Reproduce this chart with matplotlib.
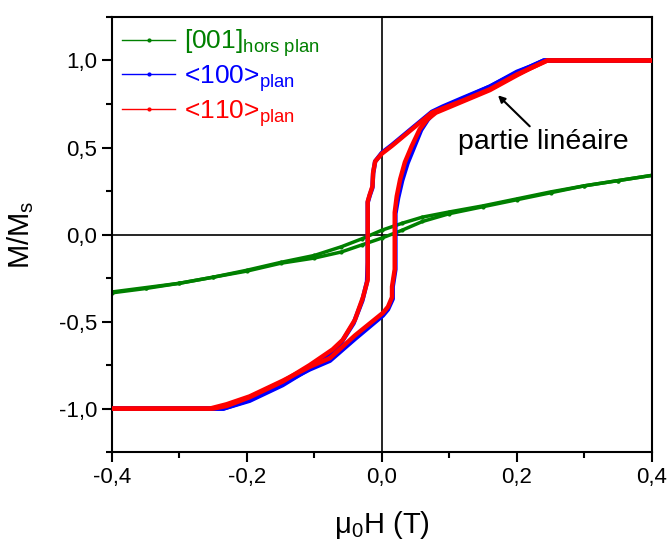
import matplotlib
matplotlib.use("Agg")
import matplotlib.pyplot as plt
from matplotlib.lines import Line2D
from matplotlib.ticker import MultipleLocator

plt.rcParams['font.family'] = ['Liberation Sans', 'DejaVu Sans']
plt.rcParams['mathtext.fontset'] = 'custom'
plt.rcParams['mathtext.rm'] = 'Liberation Sans'
plt.rcParams['mathtext.it'] = 'Liberation Sans:italic'

# <110> plan (red), branch coming down from +sat, then going back up
red_desc_x = [0.40, 0.35, 0.30, 0.26, 0.245, 0.22, 0.20, 0.16, 0.12, 0.09, 0.074, 0.046, 0.015, 0.0,
              -0.010, -0.013, -0.014, -0.018, -0.021, -0.021, -0.021, -0.028, -0.040, -0.058, -0.073,
              -0.107, -0.147, -0.196, -0.23, -0.25, -0.30, -0.35, -0.40]
red_desc_m = [1.0, 1.0, 1.0, 1.0, 1.0, 0.955, 0.92, 0.835, 0.77, 0.725, 0.70, 0.61, 0.51, 0.465,
              0.42, 0.357, 0.277, 0.23, 0.19, -0.16, -0.26, -0.36, -0.49, -0.605, -0.66,
              -0.75, -0.845, -0.935, -0.985, -1.0, -1.0, -1.0, -1.0]
red_asc_x = [-0.40, -0.35, -0.30, -0.255, -0.23, -0.196, -0.147, -0.107, -0.077, -0.04, 0.0015, 0.009,
             0.015, 0.015, 0.019, 0.019, 0.019, 0.022, 0.027, 0.034, 0.044, 0.056, 0.067, 0.08, 0.12,
             0.16, 0.20, 0.22, 0.245, 0.30, 0.35, 0.40]
red_asc_m = [-1.0, -1.0, -1.0, -1.0, -0.975, -0.93, -0.84, -0.76, -0.71, -0.58, -0.45, -0.415,
             -0.36, -0.30, -0.2, 0.03, 0.127, 0.22, 0.317, 0.415, 0.507, 0.605, 0.66, 0.70, 0.765,
             0.83, 0.915, 0.955, 1.0, 1.0, 1.0, 1.0]

# <100> plan (blue)
blue_desc_x = [0.40, 0.35, 0.30, 0.24, 0.22, 0.20, 0.16, 0.12, 0.09, 0.074, 0.046, 0.015, 0.0,
               -0.010, -0.013, -0.014, -0.018, -0.021, -0.021, -0.022, -0.029, -0.042, -0.060, -0.075,
               -0.107, -0.147, -0.196, -0.235, -0.30, -0.35, -0.40]
blue_desc_m = [1.0, 1.0, 1.0, 1.0, 0.965, 0.935, 0.85, 0.785, 0.735, 0.705, 0.615, 0.515, 0.47,
               0.42, 0.35, 0.27, 0.225, 0.185, -0.16, -0.27, -0.38, -0.51, -0.62, -0.675,
               -0.77, -0.865, -0.955, -1.0, -1.0, -1.0, -1.0]
blue_asc_x = [-0.40, -0.35, -0.30, -0.235, -0.196, -0.147, -0.107, -0.077, -0.04, 0.0015, 0.009,
              0.016, 0.016, 0.020, 0.020, 0.020, 0.024, 0.030, 0.038, 0.048, 0.058, 0.068, 0.08,
              0.12, 0.16, 0.20, 0.24, 0.30, 0.35, 0.40]
blue_asc_m = [-1.0, -1.0, -1.0, -1.0, -0.95, -0.855, -0.775, -0.725, -0.60, -0.465, -0.43,
              -0.37, -0.30, -0.2, 0.03, 0.12, 0.21, 0.31, 0.41, 0.505, 0.6, 0.66, 0.71,
              0.78, 0.85, 0.93, 1.0, 1.0, 1.0, 1.0]

# [001] hors plan (green)
green_desc_x = [0.40, 0.35, 0.30, 0.25, 0.20, 0.15, 0.10, 0.06, 0.03, 0.0, -0.03, -0.06, -0.10,
                -0.15, -0.20, -0.25, -0.30, -0.35, -0.40]
green_desc_m = [0.34, 0.31, 0.28, 0.245, 0.205, 0.165, 0.13, 0.10, 0.065, 0.025, -0.025, -0.07, -0.12,
                -0.16, -0.205, -0.245, -0.28, -0.305, -0.33]
green_asc_x = [-0.40, -0.35, -0.30, -0.25, -0.20, -0.15, -0.10, -0.06, -0.03, 0.0, 0.03, 0.06, 0.10,
               0.15, 0.20, 0.25, 0.30, 0.35, 0.40]
green_asc_m = [-0.335, -0.31, -0.28, -0.245, -0.21, -0.165, -0.135, -0.10, -0.06, -0.02, 0.025, 0.075,
               0.12, 0.16, 0.20, 0.24, 0.28, 0.31, 0.34]

xticks = [-0.4, -0.2, 0.0, 0.2, 0.4]
xtick_labels = ['-0,4', '-0,2', '0,0', '0,2', '0,4']
yticks = [-1.0, -0.5, 0.0, 0.5, 1.0]
ytick_labels = ['-1,0', '-0,5', '0,0', '0,5', '1,0']

green = '#008000'
blue = '#0000ff'
red = '#ff0000'

fig = plt.figure(figsize=(6.7, 5.48), dpi=100)
ax = fig.add_axes([0.167, 0.175, 0.806, 0.794])

ax.axhline(0, color='black', lw=1.2, zorder=1)
ax.axvline(0, color='black', lw=1.2, zorder=1)

ax.plot(green_desc_x, green_desc_m, color=green, lw=2.5, marker='.', ms=4, zorder=2)
ax.plot(green_asc_x, green_asc_m, color=green, lw=2.5, marker='.', ms=4, zorder=2)
ax.plot(blue_desc_x, blue_desc_m, color=blue, lw=3.2, zorder=3)
ax.plot(blue_asc_x, blue_asc_m, color=blue, lw=3.2, zorder=3)
ax.plot(red_desc_x, red_desc_m, color=red, lw=3.2, zorder=4)
ax.plot(red_asc_x, red_asc_m, color=red, lw=3.2, zorder=4)

ax.set_xlim(-0.4, 0.4)
ax.set_ylim(-1.25, 1.25)
ax.set_xticks(xticks)
ax.set_xticklabels(xtick_labels)
ax.set_yticks(yticks)
ax.set_yticklabels(ytick_labels)
ax.xaxis.set_minor_locator(MultipleLocator(0.1))
ax.yaxis.set_minor_locator(MultipleLocator(0.25))
ax.tick_params(which='major', direction='out', length=7, width=1.5, labelsize=16,
               top=False, right=False)
ax.tick_params(which='minor', direction='out', length=4, width=1.5, top=False, right=False)
for s in ax.spines.values():
    s.set_linewidth(1.5)

ax.set_xlabel('μ$_\\mathrm{0}$H (T)', fontsize=21)
ax.set_ylabel('M/M$_\\mathrm{s}$', fontsize=21)
ax.xaxis.set_label_coords(0.5, -0.13)
ax.yaxis.set_label_coords(-0.14, 0.5)

handles = [Line2D([], [], color=green, lw=1, marker='.', ms=4),
           Line2D([], [], color=blue, lw=1, marker='.', ms=4),
           Line2D([], [], color=red, lw=1, marker='.', ms=4)]
labels = ['[001]$_\\mathrm{hors\\ plan}$', '<100>$_\\mathrm{plan}$', '<110>$_\\mathrm{plan}$']
leg = ax.legend(handles, labels, loc='upper left', frameon=False, fontsize=19,
                handlelength=2.0, handletextpad=0.35, labelspacing=0.15,
                borderaxespad=0.3, borderpad=0.1)
for txt, c in zip(leg.get_texts(), [green, blue, red]):
    txt.set_color(c)

ax.text(0.239, 0.53, 'partie linéaire', fontsize=20.5, ha='center', va='center')
ax.annotate('', xy=(0.172, 0.80), xytext=(0.219, 0.622),
            arrowprops=dict(arrowstyle='-|>', color='black', lw=1.5, shrinkA=0, shrinkB=0))

fig.savefig('out.png', dpi=100)
